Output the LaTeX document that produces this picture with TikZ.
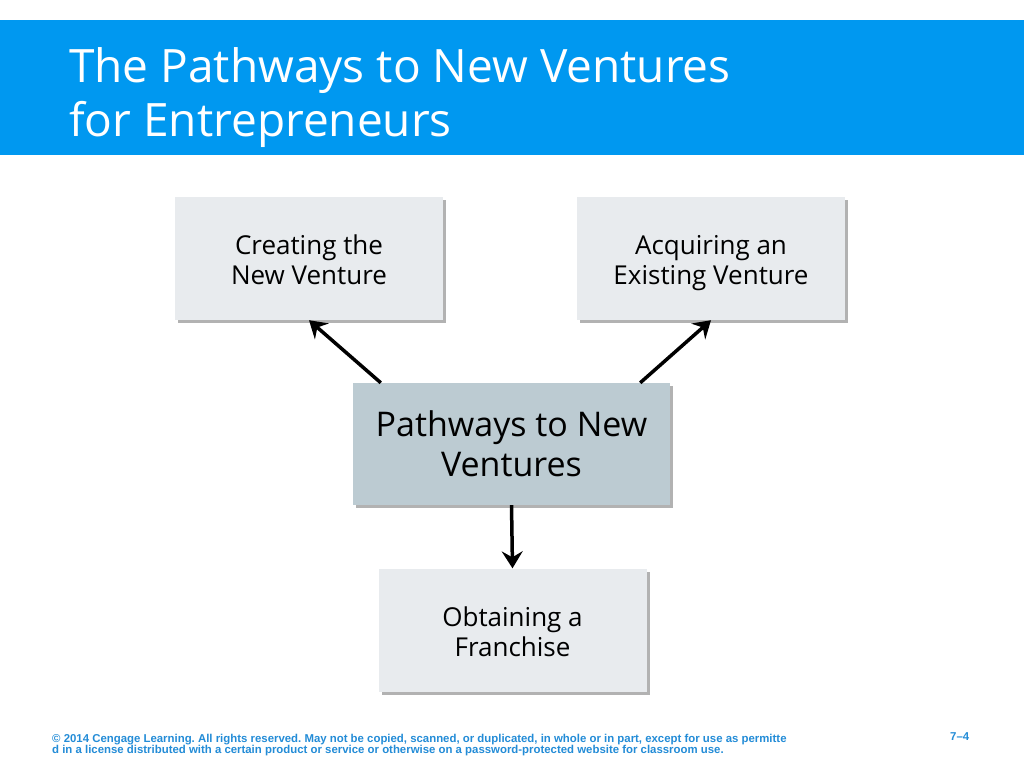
\documentclass[tikz,border=0pt]{standalone}
\usepackage{fontspec}
\setmainfont{Open Sans}
\newfontfamily\footfont{Liberation Sans}
\usetikzlibrary{arrows,arrows.meta,shapes,shadows,positioning,calc}
\definecolor{headblue}{RGB}{0,152,240}
\definecolor{footblue}{RGB}{35,140,215}
\definecolor{boxgray}{RGB}{232,235,238}
\definecolor{hubgray}{RGB}{188,203,210}
\newcommand{\tallstrut}{\rule{0pt}{31pt}}
\tikzset{
    venture/.style={
        rectangle,
        fill=boxgray,
        minimum width=268pt,
        minimum height=123pt,
        align=center,
        font=\fontsize{26}{30}\selectfont,
        drop shadow={shadow xshift=3pt,shadow yshift=-3pt,fill=black,opacity=0.3},
    },
    hub/.style={
        rectangle,
        fill=hubgray,
        minimum width=317pt,
        minimum height=122pt,
        align=center,
        font=\fontsize{34}{40}\selectfont,
        drop shadow={shadow xshift=3pt,shadow yshift=-3pt,fill=black,opacity=0.3},
    },
    path/.style={-{Stealth[length=17pt,width=21pt,inset=6pt]},line width=3.5pt},
}
\begin{document}
\frenchspacing
\begin{tikzpicture}[x=1pt,y=-1pt,>=stealth']
	    \useasboundingbox (0,0) rectangle (1024,768);
	    \fill[white] (0,0) rectangle (1024,768);
	    \fill[headblue] (0,20) rectangle (1024,155);
	    \node [anchor=north west,align=left,text=white,inner sep=0pt,font=\fontsize{46}{54}\selectfont] (title) at (69,47) {The Pathways to New Ventures\\for Entrepreneurs};
	    \node [hub] (hub) at (511.5,444) {Pathways to New\\Ventures};
	    \node [venture] (create) at (309,258.5) {\tallstrut Creating the\\New Venture\strut};
	    \node [venture] (acquire) at (711,258.5) {\tallstrut Acquiring an\\Existing Venture\strut};
	    \node [venture] (franchise) at (512.5,630) {\tallstrut Obtaining a\\Franchise\strut};
	    \draw [path] ([xshift=28pt]hub.north west) -- (create.south);
	    \draw [path] ([xshift=-30pt]hub.north east) -- (acquire.south);
	    \draw [path] (hub.south) -- (franchise.north);
	    \node [anchor=north west,align=left,inner sep=0pt,text=footblue,font=\footfont\bfseries\fontsize{11.4}{11.5}\selectfont] (legal) at (52,734) {\copyright\ 2014 Cengage Learning. All rights reserved. May not be copied, scanned, or duplicated, in whole or in part, except for use as permitte\\d in a license distributed with a certain product or service or otherwise on a password-protected website for classroom use.};
	    \node [anchor=north west,inner sep=0pt,text=footblue,font=\footfont\bfseries\fontsize{11.4}{11.5}\selectfont] (page) at (950,732) {7–4};
\end{tikzpicture}
\end{document}
